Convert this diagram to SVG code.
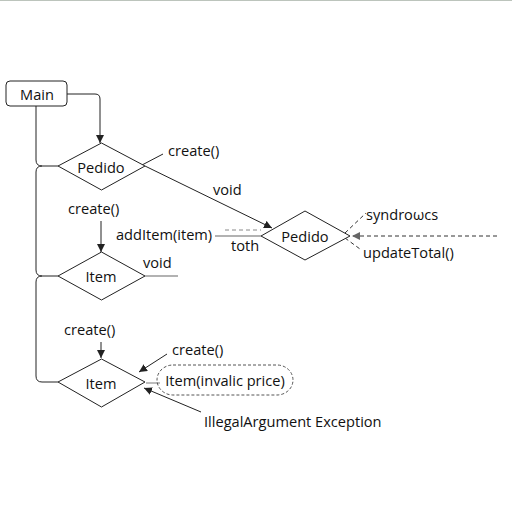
<svg xmlns="http://www.w3.org/2000/svg" width="512" height="512" viewBox="0 0 512 512">
<style>
text{font-family:"Open Sans","Noto Sans","DejaVu Sans",sans-serif;font-size:14.6px;fill:#111}
.mid{text-anchor:middle;dominant-baseline:central}
.shape{fill:#fff;stroke:#222;stroke-width:1}
.ln{fill:none;stroke:#222;stroke-width:1}
.gr{fill:none;stroke:#999;stroke-width:1.3}
.dsh{fill:none;stroke:#333;stroke-width:1;stroke-dasharray:4 3}
.dgr{fill:none;stroke:#888;stroke-width:1;stroke-dasharray:4 3}
</style>
<defs>
<marker id="ah" viewBox="0 0 10 10" refX="10" refY="5" markerWidth="8" markerHeight="8" orient="auto" markerUnits="userSpaceOnUse"><path d="M0,0 L10,5 L0,10 z" fill="#222"/></marker>
<marker id="ahg" viewBox="0 0 10 10" refX="10" refY="5" markerWidth="8" markerHeight="8" orient="auto" markerUnits="userSpaceOnUse"><path d="M0,0 L10,5 L0,10 z" fill="#666"/></marker>
</defs>
<rect width="512" height="512" fill="#fff"/>
<line x1="0" y1="0.5" x2="512" y2="0.5" stroke="#bcc4bc" stroke-width="1"/>
<g id="connectors">
<path class="ln" d="M36,106 V160 Q36,166 42,166 H58 M42,166 Q36,166 36,172 V270 Q36,276 42,276 H58 M42,276 Q36,276 36,282 V376 Q36,382 42,382 H58"/>
<path class="ln" d="M67,94 H95 Q100,94 100,99 V143" marker-end="url(#ah)"/>
<line class="ln" x1="142" y1="165" x2="163" y2="154"/>
<line class="ln" x1="145" y1="166" x2="272" y2="228" marker-end="url(#ah)"/>
<line class="ln" x1="101" y1="221" x2="101" y2="252" marker-end="url(#ah)"/>
<line class="gr" x1="215" y1="236" x2="261" y2="236"/>
<line class="dgr" x1="225" y1="230" x2="261" y2="230"/>
<line class="gr" x1="145" y1="276" x2="178" y2="276"/>
<line class="dsh" x1="345" y1="233" x2="366" y2="213"/>
<line class="dsh" x1="345" y1="238" x2="360" y2="249"/>
<line class="dsh" x1="497" y1="236" x2="352" y2="236" marker-end="url(#ahg)"/>
<line class="ln" x1="101" y1="342" x2="101" y2="358" marker-end="url(#ah)"/>
<line class="ln" x1="167" y1="354" x2="139" y2="372" marker-end="url(#ah)"/>
<line class="gr" x1="146" y1="383" x2="160" y2="383"/>
<line class="ln" x1="201" y1="412" x2="144" y2="388" marker-end="url(#ah)"/>
</g>
<g id="main">
<rect class="shape" x="6" y="81" width="61" height="25" rx="4"/>
<text class="mid" x="37" y="94">Main</text>
</g>
<g id="pedido1">
<polygon class="shape" points="58,166 101.5,143 145,166 101.5,190"/>
<text class="mid" x="101" y="167">Pedido</text>
</g>
<g id="item1">
<polygon class="shape" points="58,276 101.5,252 145,276 101.5,300"/>
<text class="mid" x="101" y="276">Item</text>
</g>
<g id="item2">
<polygon class="shape" points="58,382 101.5,359 145,382 101.5,407"/>
<text class="mid" x="101" y="383">Item</text>
</g>
<g id="pedido2">
<polygon class="shape" points="261,236 305,211 350,236 305,260"/>
<text class="mid" x="305" y="236">Pedido</text>
</g>
<g id="invalid">
<rect x="157" y="365" width="136" height="30" rx="16" ry="15" fill="none" stroke="#555" stroke-width="1" stroke-dasharray="3 2"/>
<text class="mid" x="225" y="380">Item(invalic price)</text>
</g>
<g id="labels">
<text x="168" y="156">create()</text>
<text x="213" y="195">void</text>
<text x="68" y="214">create()</text>
<text x="116" y="240">addItem(item)</text>
<text x="231" y="251">toth</text>
<text x="143" y="268">void</text>
<text x="366" y="220">syndroωcs</text>
<text x="363" y="258">updateTotal()</text>
<text x="64" y="335">create()</text>
<text x="172" y="355">create()</text>
<text x="204" y="427">IllegalArgument Exception</text>
</g>
</svg>
